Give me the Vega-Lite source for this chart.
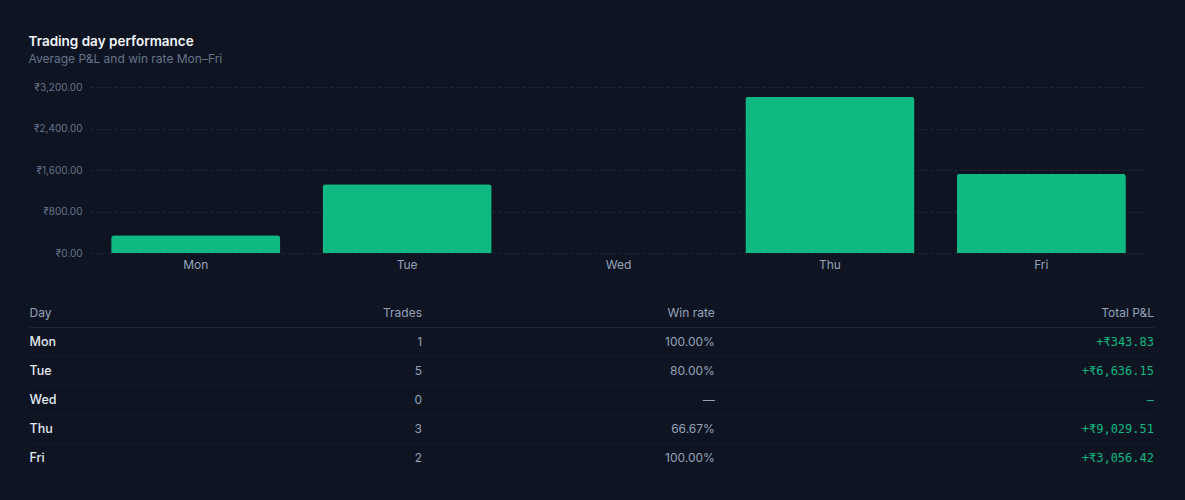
{
  "$schema": "https://vega.github.io/schema/vega-lite/v6.json",
  "background": "#0e1422",
  "padding": {"left": 28, "right": 32, "top": 34, "bottom": 32},
  "title": {
    "text": "Trading day performance",
    "subtitle": "Average P&L and win rate Mon–Fri",
    "anchor": "start",
    "font": "Inter",
    "fontSize": 13.5,
    "fontWeight": 600,
    "color": "#f1f5f9",
    "subtitleFont": "Inter",
    "subtitleFontSize": 12,
    "subtitleColor": "#64748b",
    "subtitlePadding": 6,
    "offset": 17
  },
  "config": {"view": {"stroke": null}, "font": "Inter"},
  "datasets": {
    "days": [
      {"day": "Mon", "avgPnl": 343.83, "trades": 1, "winRate": "100.00%", "totalPnl": "+₹343.83"},
      {"day": "Tue", "avgPnl": 1327.23, "trades": 5, "winRate": "80.00%", "totalPnl": "+₹6,636.15"},
      {"day": "Wed", "avgPnl": 0, "trades": 0, "winRate": "—", "totalPnl": "–"},
      {"day": "Thu", "avgPnl": 3009.84, "trades": 3, "winRate": "66.67%", "totalPnl": "+₹9,029.51"},
      {"day": "Fri", "avgPnl": 1528.21, "trades": 2, "winRate": "100.00%", "totalPnl": "+₹3,056.42"}
    ],
    "headers": [
      {"day": "header", "col": "Trades"},
      {"day": "header", "col": "Win rate"},
      {"day": "header", "col": "Total P&L"}
    ]
  },
  "spacing": 22,
  "vconcat": [
    {
      "width": 1057,
      "height": 166,
      "data": {"name": "days"},
      "mark": {"type": "bar", "color": "#10b981", "cornerRadiusEnd": 3},
      "encoding": {
        "x": {
          "field": "day",
          "type": "nominal",
          "sort": null,
          "scale": {"domain": ["Mon", "Tue", "Wed", "Thu", "Fri"], "paddingInner": 0.2, "paddingOuter": 0.1},
          "axis": {"title": null, "labelAngle": 0, "domain": false, "ticks": false, "grid": false, "labelPadding": 6, "labelFontSize": 12, "labelColor": "#94a3b8", "labelFont": "Inter"}
        },
        "y": {
          "field": "avgPnl",
          "type": "quantitative",
          "scale": {"domain": [0, 3200], "nice": false},
          "axis": {
            "title": null,
            "values": [0, 800, 1600, 2400, 3200],
            "labelExpr": "'₹' + format(datum.value, ',.2f')",
            "domain": false,
            "ticks": false,
            "labelPadding": 8,
            "minExtent": 61,
            "maxExtent": 61,
            "labelFontSize": 10,
            "labelFont": "Inter",
            "labelColor": "#64748b",
            "gridColor": "#1e2736",
            "gridDash": [3, 3],
            "gridWidth": 1
          }
        }
      }
    },
    {
      "width": 1064,
      "height": 174,
      "encoding": {
        "y": {
          "field": "day",
          "type": "nominal",
          "title": null,
          "scale": {"type": "band", "domain": ["header", "Mon", "Tue", "Wed", "Thu", "Fri"], "paddingInner": 0, "paddingOuter": 0},
          "axis": {
            "title": null,
            "domain": false,
            "ticks": true,
            "tickSize": 61,
            "tickBand": "extent",
            "tickWidth": 1,
            "grid": true,
            "gridDash": [],
            "gridWidth": 1,
            "tickColor": {"condition": {"test": "datum.value === 'header'", "value": "#1f2838"}, "value": "#151d2c"},
            "gridColor": {"condition": {"test": "datum.value === 'header'", "value": "#1f2838"}, "value": "#151d2c"},
            "tickOpacity": {"condition": {"test": "indexof(['header','Mon','Tue','Wed','Thu'], datum.value) >= 0 && !datum.extra", "value": 1}, "value": 0},
            "gridOpacity": {"condition": {"test": "indexof(['header','Mon','Tue','Wed','Thu'], datum.value) >= 0 && !datum.extra", "value": 1}, "value": 0},
            "labelAlign": "left",
            "labelPadding": 0,
            "labelBaseline": "middle",
            "labelExpr": "datum.value === 'header' ? 'Day' : datum.value",
            "labelColor": {"condition": {"test": "datum.value === 'header'", "value": "#94a3b8"}, "value": "#e2e8f0"},
            "labelFontWeight": {"condition": {"test": "datum.value === 'header'", "value": 400}, "value": 500},
            "labelFontSize": {"condition": {"test": "datum.value === 'header'", "value": 12}, "value": 12.5},
            "labelFont": "Inter",
            "minExtent": 61,
            "maxExtent": 61
          }
        }
      },
      "layer": [
        {
          "data": {"name": "headers"},
          "mark": {"type": "text", "align": "right", "baseline": "middle", "fontSize": 12, "color": "#94a3b8", "font": "Inter"},
          "encoding": {
            "x": {"field": "col", "type": "nominal",
              "scale": {"type": "point", "domain": ["_gap0", "Trades", "_gap1", "Win rate", "_gap2", "_gap3", "Total P&L"], "padding": 0.634, "align": 1},
              "axis": null},
            "text": {"field": "col"}
          }
        },
        {
          "data": {"name": "days"},
          "mark": {"type": "text", "align": "right", "baseline": "middle", "fontSize": 12, "color": "#94a3b8", "font": "Inter"},
          "encoding": {
            "x": {"datum": "Trades", "type": "nominal", "axis": null},
            "text": {"field": "trades"}
          }
        },
        {
          "data": {"name": "days"},
          "mark": {"type": "text", "align": "right", "baseline": "middle", "fontSize": 12, "color": "#94a3b8", "font": "Inter"},
          "encoding": {
            "x": {"datum": "Win rate", "type": "nominal", "axis": null},
            "text": {"field": "winRate"}
          }
        },
        {
          "data": {"name": "days"},
          "mark": {"type": "text", "align": "right", "baseline": "middle", "fontSize": 12, "color": "#10b981", "font": "DejaVu Sans Mono"},
          "encoding": {
            "x": {"datum": "Total P&L", "type": "nominal", "axis": null},
            "text": {"field": "totalPnl"}
          }
        }
      ]
    }
  ]
}
